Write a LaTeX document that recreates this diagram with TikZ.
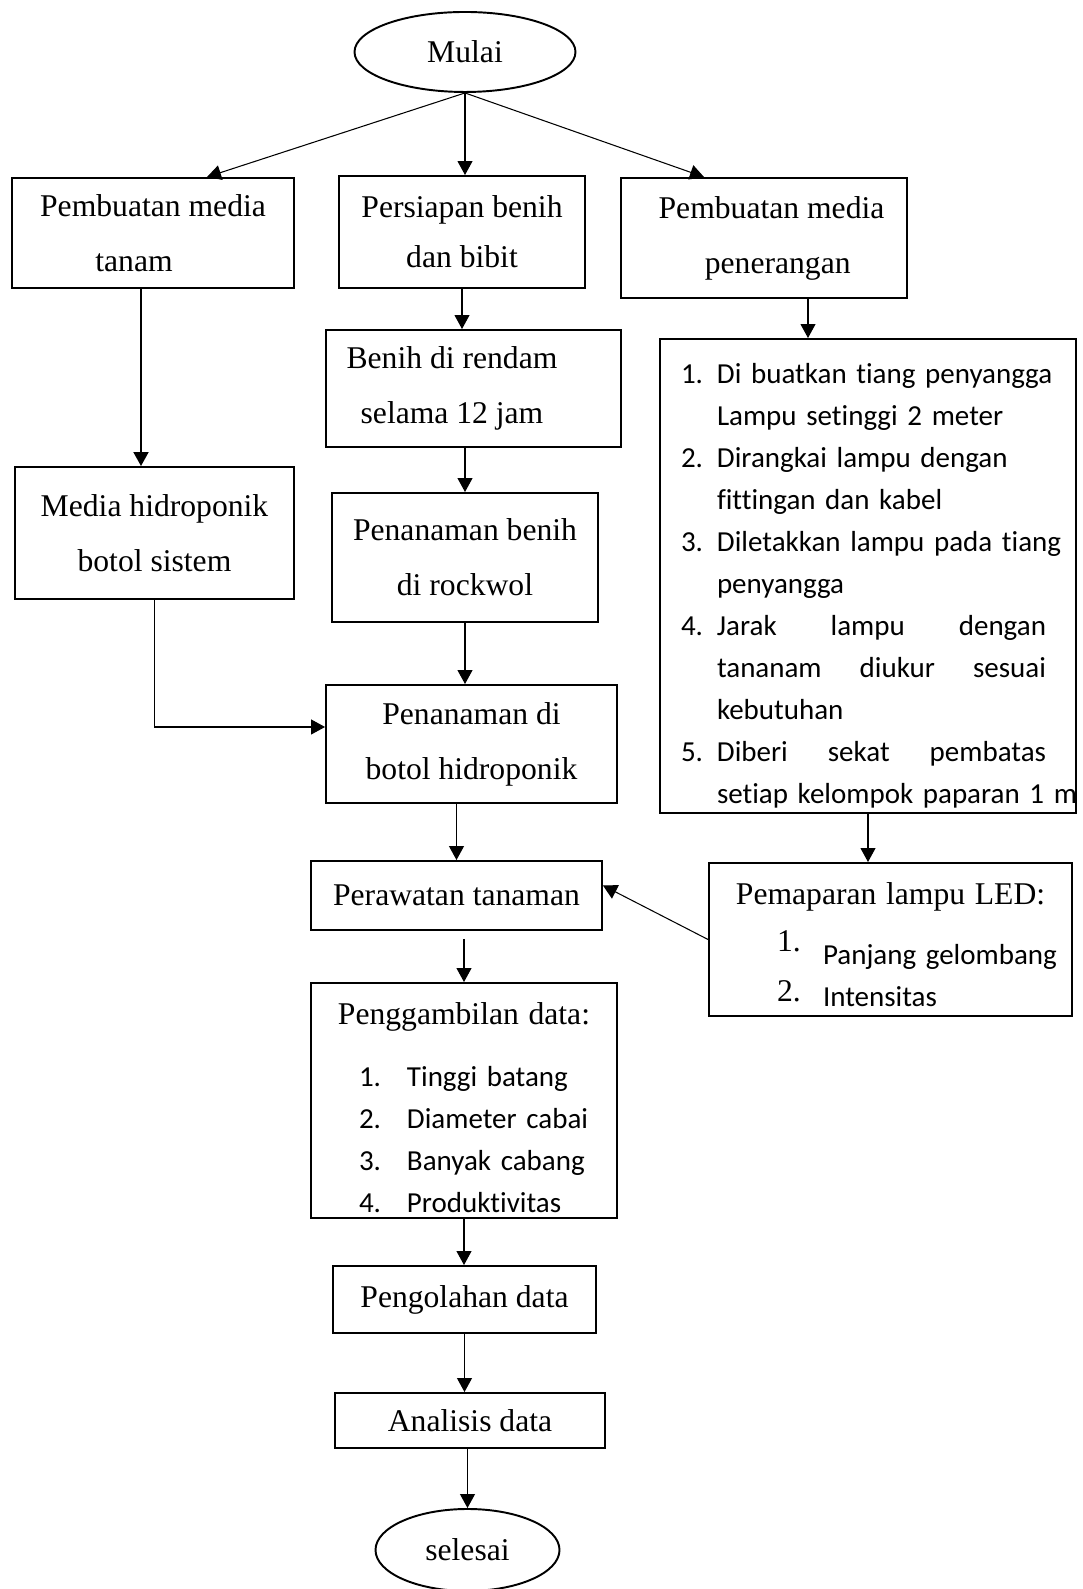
\documentclass[tikz,border=0pt]{standalone}
\usepackage{fontspec}
\setmainfont{Liberation Serif}
\newfontfamily\calibri{Carlito}[Ligatures=NoCommon]
\usetikzlibrary{shapes.geometric,arrows.meta,positioning}

\newcommand{\boxfont}{\fontsize{18pt}{31.3pt}\selectfont}
\newcommand{\listfont}{\calibri\fontsize{16.5pt}{23.9pt}\selectfont}

\begin{document}
\begin{tikzpicture}[
    box/.style={rectangle, draw, line width=1.1pt, align=center, inner sep=0pt, font=\boxfont},
    oval/.style={ellipse, draw, line width=1.1pt, inner sep=0pt, font=\boxfont},
    listbox/.style={rectangle, draw, line width=1.1pt, align=left, inner ysep=0pt, font=\listfont},
    arrow/.style={-{Triangle[length=0.28cm, width=0.3cm]}, line width=0.6pt}
]
\useasboundingbox (0,0) rectangle (21.64,31.78);

% Start
\node[oval, minimum width=4.42cm, minimum height=1.6cm] (mulai) at (9.30,30.74) {Mulai};

% ------------------ First row ------------------
\node[box, minimum width=5.64cm, minimum height=2.2cm] (tanam) at (3.06,27.12) {Pembuatan media\\tanam\hspace*{0.76cm}};
\node[box, minimum width=4.92cm, minimum height=2.24cm] (bibit) at (9.24,27.14) {Persiapan benih\\[-0.1cm]dan bibit};
\node[box, minimum width=5.72cm, minimum height=2.4cm] (penerangan) at (15.28,27.02) {\hspace*{0.3cm}Pembuatan media\\\hspace*{0.55cm}penerangan};

% ------------------ Left column ------------------
\node[box, minimum width=5.58cm, minimum height=2.64cm] (media) at (3.09,21.12) {Media hidroponik\\botol sistem};

% ------------------ Middle column ------------------
\node[box, minimum width=5.9cm, minimum height=2.34cm] (rendam) at (9.47,24.01) {Benih di rendam\hspace*{0.86cm}\\selama 12 jam\hspace*{0.86cm}};
\node[box, minimum width=5.32cm, minimum height=2.58cm] (rockwol) at (9.30,20.63) {Penanaman benih\\di rockwol};
\node[box, minimum width=5.82cm, minimum height=2.36cm] (botol) at (9.43,16.90) {Penanaman di\\botol hidroponik};
\node[box, minimum width=5.82cm, minimum height=1.38cm] (rawat) at (9.13,13.87) {Perawatan tanaman};

\node[listbox, text width=5.72cm, inner xsep=0.2cm, text height=0.84cm, text depth=3.86cm] (ambil) at (9.28,9.77) {%
\makebox[\linewidth]{\rmfamily\boxfont Penggambilan data:}\\[0.4cm]
\hspace*{0.76cm}\makebox[0.96cm][l]{1.}\mbox{Tinggi batang}\\
\hspace*{0.76cm}\makebox[0.96cm][l]{2.}\mbox{Diameter cabai}\\
\hspace*{0.76cm}\makebox[0.96cm][l]{3.}\mbox{Banyak cabang}\\
\hspace*{0.76cm}\makebox[0.96cm][l]{4.}Produktivitas};

\node[box, minimum width=5.26cm, minimum height=1.34cm] (olah) at (9.29,5.79) {Pengolahan data};
\node[box, minimum width=5.4cm, minimum height=1.1cm] (analisis) at (9.40,3.37) {Analisis data};

% End
\node[oval, minimum width=3.68cm, minimum height=1.64cm] (selesai) at (9.35,0.78) {selesai};

% ------------------ Right column ------------------
\node[listbox, text width=7.48cm, inner xsep=0.42cm, text height=0.9cm, text depth=8.58cm] (steps) at (17.36,20.26) {%
\makebox[0.72cm][l]{1.}\mbox{Di buatkan tiang penyangga}\\
\hspace*{0.72cm}\mbox{Lampu setinggi 2 meter}\\
\makebox[0.72cm][l]{2.}\mbox{Dirangkai lampu dengan}\\
\hspace*{0.72cm}\mbox{fittingan dan kabel}\\
\makebox[0.72cm][l]{3.}\mbox{Diletakkan lampu pada tiang}\\
\hspace*{0.72cm}penyangga\\
\makebox[0.72cm][l]{4.}\makebox[6.58cm][l]{Jarak\hfill lampu\hfill dengan}\\
\hspace*{0.72cm}\makebox[6.58cm][l]{tananam\hfill diukur\hfill sesuai}\\
\hspace*{0.72cm}kebutuhan\\
\makebox[0.72cm][l]{5.}\makebox[6.58cm][l]{Diberi\hfill sekat\hfill pembatas}\\
\hspace*{0.72cm}\mbox{setiap kelompok paparan 1 m}};

\node[listbox, text width=6.86cm, inner xsep=0.2cm, text height=0.84cm, text depth=2.22cm] (lampu) at (17.81,12.99) {%
\makebox[\linewidth]{\rmfamily\boxfont Pemaparan lampu LED:}\\[0.36cm]
\hspace*{1.16cm}\makebox[0.92cm][l]{\rmfamily\boxfont\raisebox{0.26cm}{1.}}\mbox{Panjang gelombang}\\
\hspace*{1.16cm}\makebox[0.92cm][l]{\rmfamily\boxfont\raisebox{0.1cm}{2.}}Intensitas};

% ------------------ Arrows ------------------
\draw[arrow] (mulai.south) -- ([xshift=1.08cm]tanam.north);
\draw[arrow] (mulai.south) -- (mulai.south |- bibit.north);
\draw[arrow] (mulai.south) -- ([xshift=-1.2cm]penerangan.north);

\draw[arrow, line width=1.1pt] ([xshift=-0.24cm]tanam.south) -- ([xshift=-0.24cm]tanam.south |- media.north);
\draw[arrow] (bibit.south) -- (bibit.south |- rendam.north);
\draw[arrow] ([xshift=0.88cm]penerangan.south) -- ([xshift=0.88cm]penerangan.south |- steps.north);

\draw[arrow] (rendam.south -| rockwol.north) -- (rockwol.north);
\draw[arrow] (rockwol.south) -- (rockwol.south |- botol.north);
\draw[arrow] (media.south) |- ([yshift=0.34cm]botol.west);
\draw[arrow] (botol.south -| rawat.north) -- (rawat.north);

\draw[arrow] (steps.south) -- (steps.south |- lampu.north);
\draw[arrow] (lampu.west) -- ([yshift=0.2cm]rawat.east);

\draw[arrow, shorten <=0.16cm] (rawat.south -| ambil.north) -- (ambil.north);
\draw[arrow] (ambil.south) -- (ambil.south |- olah.north);
\draw[arrow] (olah.south) -- (olah.south |- analisis.north);
\draw[arrow] (analisis.south -| selesai.north) -- (selesai.north);

\end{tikzpicture}
\end{document}
